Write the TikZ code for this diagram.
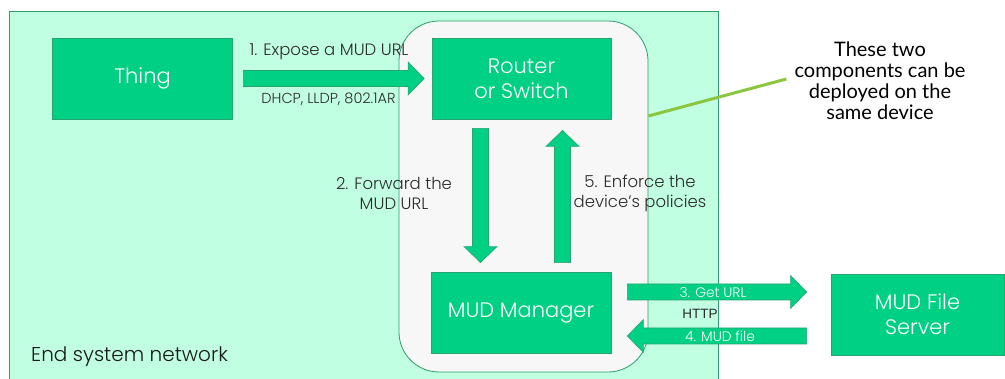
\documentclass[tikz,border=0pt]{standalone}
\usepackage{fontspec}
\setmainfont{Poppins}[UprightFont={* Light}]
\newfontfamily\notefont{Lato}
\newfontfamily\protofont{Liberation Sans}
\usetikzlibrary{calc}
\definecolor{netfill}{HTML}{C0FFE2}
\definecolor{netline}{HTML}{2E9C6C}
\definecolor{boxfill}{HTML}{00D084}
\definecolor{boxline}{HTML}{27A56E}
\definecolor{devfill}{HTML}{F7F7F7}
\definecolor{labeltext}{HTML}{2A2A2A}
\definecolor{calloutline}{HTML}{8CC63F}
\begin{document}
\begin{tikzpicture}[x=1pt,y=-1pt,
  box/.style={draw=boxline, line width=0.8pt, fill=boxfill, text=white,
    font=\fontsize{21}{25}\selectfont, align=center, inner sep=0pt},
  lbl/.style={text=labeltext, font=\fontsize{16.5}{20}\selectfont, align=center, inner sep=0pt},
  inlbl/.style={text=white, font=\fontsize{13.8}{16}\selectfont, inner sep=0pt},
  blockarrow/.style={draw=boxline, line width=0.6pt, fill=boxfill,
    to path={
      ($(\tikztostart)!8pt!90:(\tikztotarget)$)
      -- ($($(\tikztotarget)!16pt!(\tikztostart)$)!8pt!90:(\tikztotarget)$)
      -- ($($(\tikztotarget)!16pt!(\tikztostart)$)!16.5pt!90:(\tikztotarget)$)
      -- (\tikztotarget)
      -- ($($(\tikztotarget)!16pt!(\tikztostart)$)!16.5pt!-90:(\tikztotarget)$)
      -- ($($(\tikztotarget)!16pt!(\tikztostart)$)!8pt!-90:(\tikztotarget)$)
      -- ($(\tikztostart)!8pt!-90:(\tikztotarget)$)
      -- cycle}}
]
\useasboundingbox (0,0) rectangle (1005,379);

% end system network area
\node[draw=netline, line width=0.8pt, fill=netfill, minimum width=708.5, minimum height=375,
  inner sep=0pt] (net) at (363.75,199.2) {};
\node[anchor=west, text=black!90, font=\fontsize{20}{22}\selectfont, inner sep=0pt]
  (netlabel) at (31,357) {End system network};

% router and manager may live on one device
\node[draw=netline, line width=0.8pt, fill=devfill, rounded corners=40pt,
  minimum width=249, minimum height=351, inner sep=0pt] (device) at (523.5,196.5) {};

% components
\node[box, minimum width=180, minimum height=81] (thing) at (142.5,78.5) {Thing};
\node[box, minimum width=179, minimum height=81] (router) at (521.5,78.5) {Router\\or Switch};
\node[box, minimum width=180, minimum height=81] (manager) at (521,312.5) {MUD Manager};
\node[box, minimum width=173, minimum height=81] (server) at (917.5,314.5) {MUD File\\Server};

% arrow end points
\coordinate (a1s) at ($(thing.east)+(10.5,0)$);
\coordinate (a1e) at ($(router.west)+(-7.5,0)$);
\coordinate (a2s) at ($(router.south)+(-41,9)$);
\coordinate (a2e) at ($(manager.north)+(-40.5,-9)$);
\coordinate (a5s) at ($(manager.north)+(41.5,-9)$);
\coordinate (a5e) at ($(router.south)+(41,11)$);
\coordinate (a3s) at ($(manager.east)+(16,-20.5)$);
\coordinate (a3e) at ($(server.west)+(-24,-22.5)$);
\coordinate (a4s) at ($(server.west)+(-24,21.5)$);
\coordinate (a4e) at ($(manager.east)+(16,23.5)$);

% message flow
\draw[blockarrow] (a1s) to (a1e);
\draw[blockarrow] (a2s) to (a2e);
\draw[blockarrow] (a5s) to (a5e);
\draw[blockarrow] (a3s) to (a3e);
\draw[blockarrow] (a4s) to (a4e);

% step labels
\node[lbl] (l1) at (329,52) {1. Expose a MUD URL};
\node[lbl, font=\fontsize{14.5}{16}\selectfont] (l1b) at (328.5,99) {DHCP, LLDP, 802.1AR};
\node[lbl] (l2) at (394,193) {2. Forward the\\MUD URL};
\node[lbl] (l5) at (640,193) {5. Enforce the\\device’s policies};
\node[inlbl] (l3) at (713,292.5) {3. Get URL};
\node[inlbl] (l4) at (720,336) {4. MUD file};
\node[text=labeltext, font=\protofont\fontsize{13.5}{16}\selectfont, inner sep=0pt] (http) at (700,314) {HTTP};

% side note
\node[text=black, font=\notefont\fontsize{20}{21}\selectfont, align=center, inner sep=0pt]
  (note) at (880,80.5) {These two\\components can be\\deployed on the\\same device};
\coordinate (noteend) at ($(note.west)+(-8,-1.5)$);
\draw[calloutline, line width=3pt] ($(device.east)+(0,-80.5)$) -- (noteend);
\end{tikzpicture}
\end{document}
